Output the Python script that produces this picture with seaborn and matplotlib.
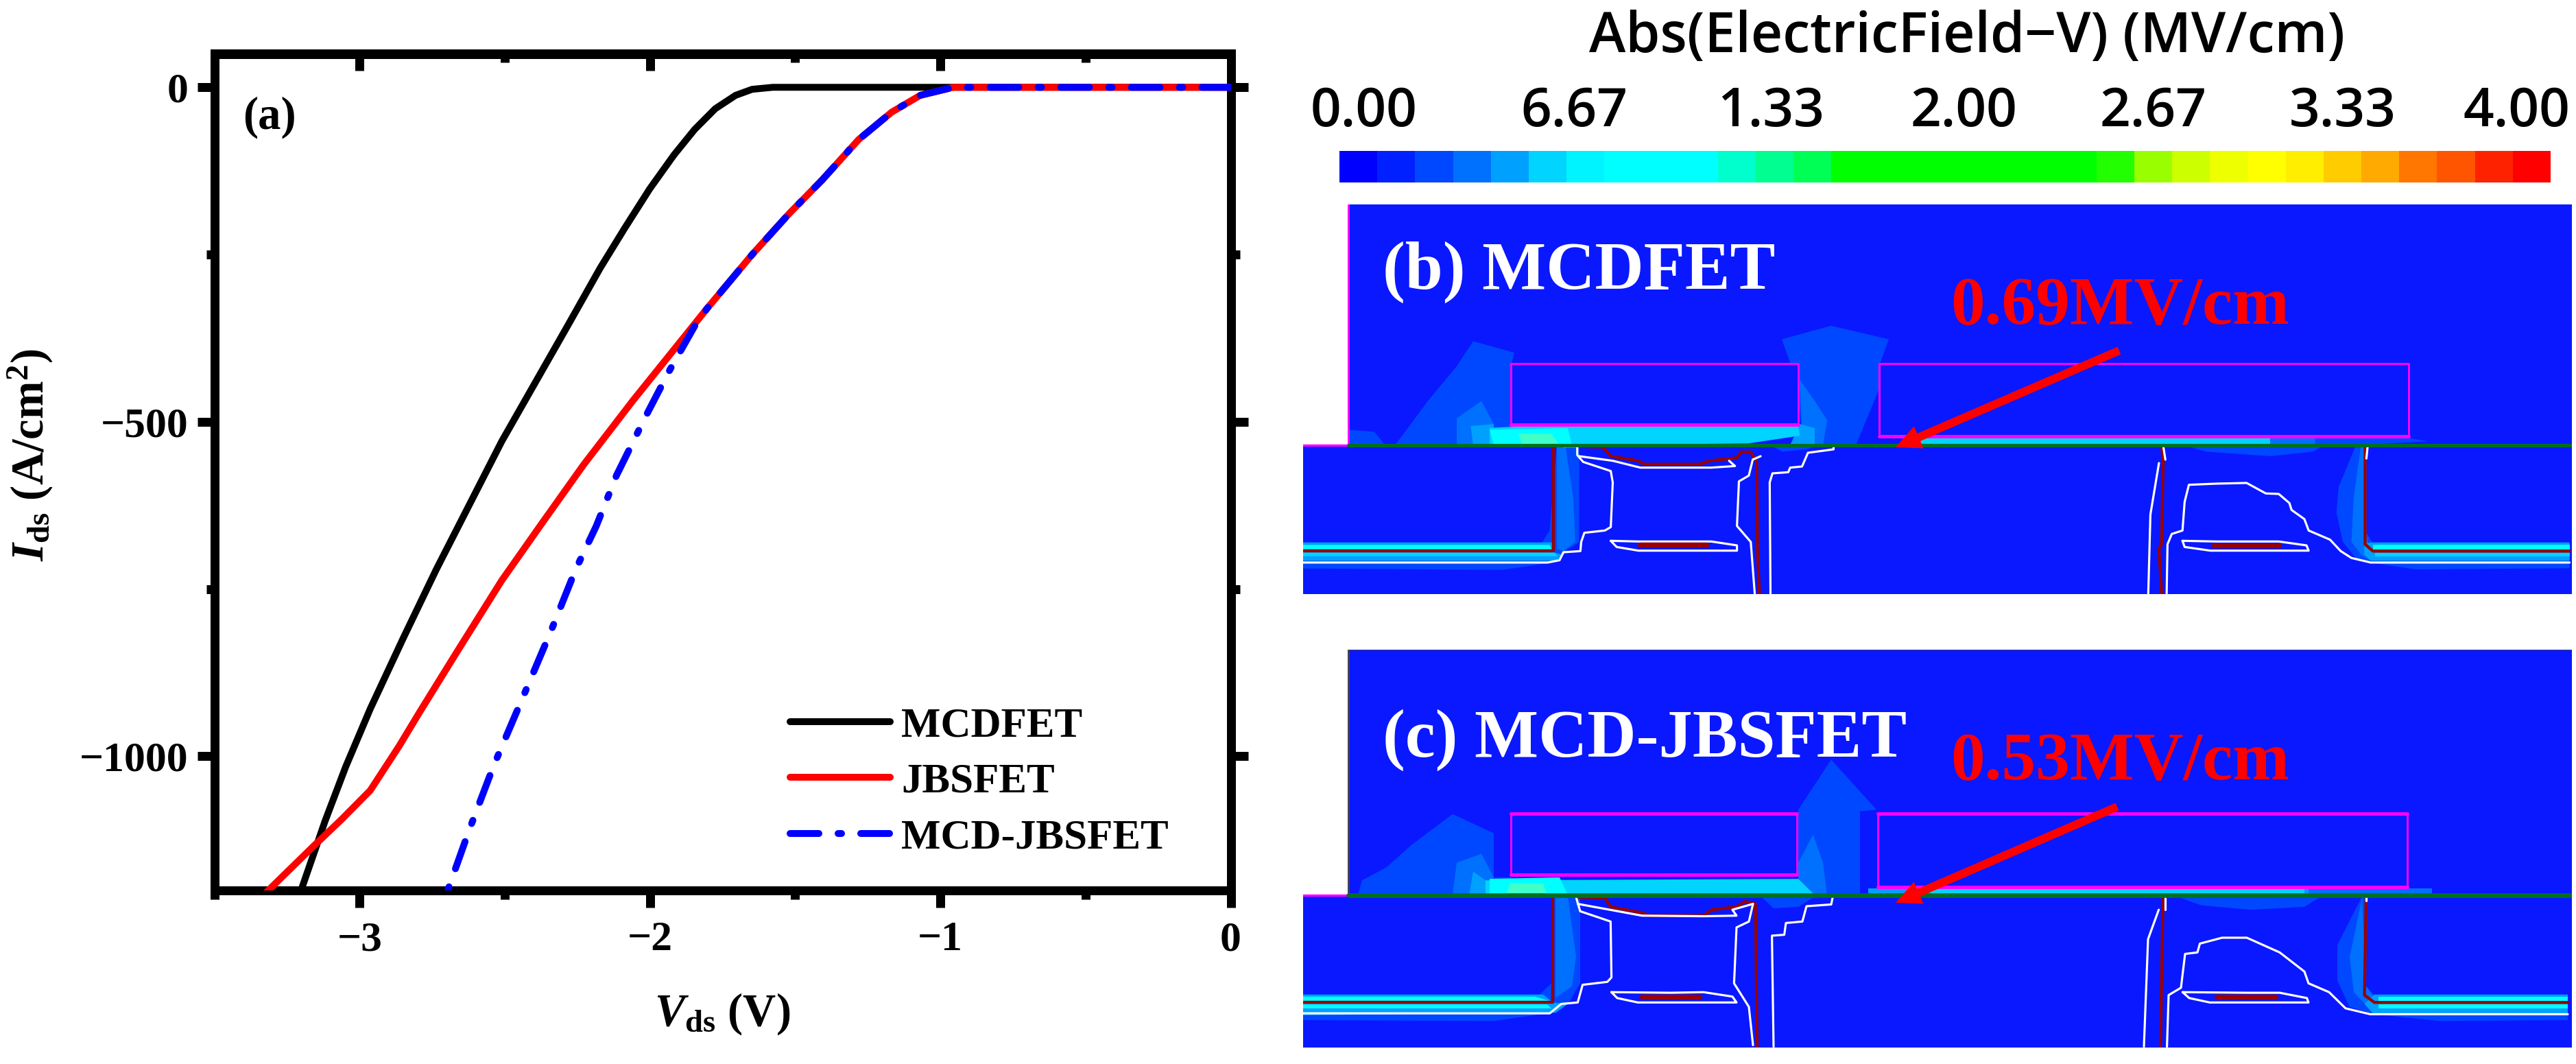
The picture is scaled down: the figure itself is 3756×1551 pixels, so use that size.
from __future__ import annotations

import matplotlib
matplotlib.use("Agg")
import matplotlib.pyplot as plt
import numpy as np
import pandas as pd
import seaborn as sns
from matplotlib.colors import ListedColormap
from matplotlib.ticker import MultipleLocator
from matplotlib.transforms import Affine2D

WIDTH, HEIGHT, DPI = 3756, 1551, 240

# ---- panel (a) curves
VDS_MCDFET = [0, -0.5, -1.0, -1.5, -1.577, -1.648, -1.705, -1.775, -1.846, -1.917, -2.001, -2.086, -2.171,
              -2.284, -2.397, -2.510, -2.623, -2.736, -2.849, -2.963, -3.047, -3.118, -3.205]
IDS_MCDFET = [0, 0, 0, 0, 0, -3, -12, -32, -63, -101, -152, -210, -270,
              -357, -443, -529, -625, -721, -823, -929, -1015, -1096, -1205]
VDS_JBSFET = [0, -0.5, -0.955, -1.069, -1.167, -1.281, -1.408, -1.521, -1.648, -1.804, -1.917, -2.058, -2.228,
              -2.369, -2.510, -2.666, -2.793, -2.864, -2.963, -3.061, -3.160, -3.325]
IDS_JBSFET = [0, 0, 0, -12, -37, -78, -139, -189, -250, -331, -392, -468, -564,
              -650, -737, -845, -934, -985, -1051, -1094, -1135, -1205]
VDS_MCD_JBSFET = [0, -0.5, -0.955, -1.069, -1.167, -1.281, -1.408, -1.521, -1.648, -1.804, -1.846, -1.931, -2.016,
                  -2.115, -2.185, -2.256, -2.341, -2.425, -2.539, -2.623, -2.70]
IDS_MCD_JBSFET = [0, 0, 0, -12, -37, -78, -139, -189, -250, -331, -357, -422, -493,
                  -580, -656, -721, -813, -899, -1015, -1111, -1205]

# ---- colour bar
COLORBAR_COLORS = ["#0000ff", "#0020ff", "#0048ff", "#0070ff", "#00a0ff", "#00d4ff", "#00f4ff", "#00ffff",
                   "#00ffff", "#00ffff", "#00ffcc", "#00ff90", "#00ff55", "#00ff00", "#00ff00", "#00ff00",
                   "#00ff00", "#00ff00", "#00ff00", "#00ff00", "#22ff00", "#99ff00", "#ccff00", "#eeff00",
                   "#ffff00", "#ffee00", "#ffcc00", "#ffaa00", "#ff7700", "#ff5500", "#ff2200", "#ff0000"]
COLORBAR_LABELS = ["0.00", "6.67", "1.33", "2.00", "2.67", "3.33", "4.00"]
COLORBAR_LABEL_CELLS = [0.65, 6.2, 11.4, 16.5, 21.5, 26.5, 31.1]

# ---- field map colours
BG = "#0a18ff"
L1 = "#0048ff"
L2 = "#0070ff"
L3 = "#00a0ff"
L4 = "#00d4ff"
L5 = "#00ffff"
L6 = "#40ffc8"
DARK_RED = "#990000"
MAGENTA = "#ff00ff"
GREEN = "#007020"

# each crop: x origin, x scale, y origin, y scale of the crop I read the outline from
B_TOP = (1878, 1.2, 0, 0.562)
B_LEFT = (1880, 0.575, 560, 1 / 3)
B_RIGHT = (2780, 0.6236, 560, 1 / 3)
C_ALL = (1878, 1.2, 880, 0.429)

B_FILLS = [
    (L1, B_TOP, [(130, 1155), (170, 1040), (205, 950), (225, 885), (275, 915), (272, 940), (272, 1155)]),
    (L1, B_TOP, [(600, 880), (660, 845), (730, 880), (718, 950), (718, 1010), (690, 1155), (625, 1155), (620, 1000)]),
    (L1, B_TOP, [(75, 1115), (105, 1120), (118, 1155), (75, 1155)]),
    (L2, B_TOP, [(205, 1155), (205, 1085), (235, 1040), (250, 1100), (245, 1155)]),
    (L2, B_TOP, [(622, 985), (640, 1040), (655, 1090), (650, 1155), (625, 1155)]),
    (L3, B_TOP, [(225, 1155), (222, 1105), (250, 1100), (250, 1155)]),
    (L3, B_TOP, [(622, 1100), (640, 1110), (640, 1155), (610, 1155)]),
    (L4, B_TOP, [(245, 1110), (300, 1104), (620, 1104), (622, 1130), (560, 1150), (340, 1155), (245, 1155)]),
    (L5, B_TOP, [(245, 1115), (340, 1110), (345, 1155), (250, 1155)]),
    (L6, B_TOP, [(280, 1125), (320, 1125), (330, 1155), (285, 1155)]),
    (L4, B_RIGHT, [(25, 235), (850, 235), (850, 262), (25, 262)]),
    (L2, B_RIGHT, [(850, 237), (955, 237), (955, 262), (850, 262)]),
    (L1, B_RIGHT, [(955, 235), (1170, 235), (1220, 250), (1100, 262), (955, 262)]),
    (L1, B_RIGHT, [(650, 268), (700, 295), (850, 315), (950, 295), (975, 268)]),
    (L1, B_LEFT, [(1220, 268), (1250, 295), (1310, 285), (1340, 268)]),
    (L1, B_LEFT, [(678, 268), (735, 268), (735, 690), (700, 730), (685, 770), (660, 782), (540, 812), (32, 806),
                  (32, 695), (640, 695), (660, 640)]),
    (L2, B_LEFT, [(678, 268), (700, 268), (720, 500), (725, 690), (695, 730), (678, 720)]),
    (L3, B_LEFT, [(32, 692), (665, 692), (670, 735), (690, 745), (680, 772), (32, 772)]),
    (L5, B_LEFT, [(32, 703), (660, 703), (665, 722), (32, 722)]),
    (L4, B_LEFT, [(32, 737), (672, 737), (680, 752), (32, 752)]),
    (L1, B_RIGHT, [(1050, 270), (1010, 450), (1005, 560), (1020, 690), (1050, 760), (1085, 780), (1190, 810),
                   (1550, 805), (1550, 695), (1090, 695), (1075, 650), (1075, 265)]),
    (L2, B_RIGHT, [(1062, 270), (1045, 500), (1040, 690), (1065, 750), (1085, 770), (1075, 650), (1075, 270)]),
    (L3, B_RIGHT, [(1085, 692), (1550, 692), (1550, 772), (1085, 772), (1070, 745), (1070, 700)]),
    (L5, B_RIGHT, [(1090, 703), (1550, 703), (1550, 722), (1090, 722)]),
    (L4, B_RIGHT, [(1095, 737), (1550, 737), (1550, 752), (1095, 752)]),
]
B_WHITE = [
    (B_LEFT, [(32, 780), (655, 780), (685, 770), (695, 735), (738, 730), (740, 690), (748, 650), (800, 640),
              (815, 625), (820, 430), (815, 380), (745, 340), (730, 310), (730, 272), (695, 272)]),
    (B_LEFT, [(735, 315), (820, 335), (890, 365), (1070, 365), (1130, 358), (1115, 335)]),
    (B_LEFT, [(1195, 315), (1175, 330), (1165, 400), (1140, 425), (1135, 620), (1170, 690), (1180, 915)]),
    (B_LEFT, [(815, 685), (885, 688), (1070, 688), (1135, 705), (1135, 728), (885, 728), (830, 712), (815, 685)]),
    (B_LEFT, [(1380, 270), (1380, 285), (1315, 300), (1300, 360), (1270, 365), (1265, 385), (1225, 390),
              (1218, 430), (1220, 915)]),
    (B_RIGHT, [(590, 345), (570, 570), (565, 915)]),
    (B_RIGHT, [(600, 270), (605, 330)]),
    (B_RIGHT, [(608, 915), (610, 700), (620, 655), (645, 640), (650, 515), (660, 440), (725, 435), (795, 432),
               (840, 478), (870, 480), (895, 520), (900, 550), (930, 590), (940, 640), (990, 680), (1015, 730),
               (1040, 760), (1085, 780), (1550, 780)]),
    (B_RIGHT, [(645, 685), (725, 688), (870, 688), (935, 705), (940, 728), (710, 728), (650, 712), (645, 685)]),
    (B_RIGHT, [(1078, 270), (1075, 325)]),
]
B_RED = [
    (B_LEFT, [(32, 730), (670, 730), (670, 268)]),
    (B_LEFT, [(730, 272), (795, 275), (815, 315), (885, 335), (900, 350), (1040, 350), (1065, 335), (1135, 322),
              (1145, 297), (1170, 297), (1185, 340), (1187, 730), (1192, 915)]),
    (B_RIGHT, [(596, 268), (600, 330), (596, 700), (590, 720), (596, 915)]),
    (B_RIGHT, [(1072, 268), (1072, 700), (1090, 730), (1550, 730)]),
]
B_BLOBS = [(B_LEFT, [(888, 703), (1058, 703)]), (B_RIGHT, [(718, 705), (870, 705)])]
B_GATES = [(B_TOP, [(271, 943), (620, 943), (620, 1102), (271, 1102), (271, 943)]),
           (B_TOP, [(718, 943), (1362, 943), (1362, 1132), (718, 1132), (718, 943)])]

C_FILLS = [
    (L1, C_ALL, [(85, 990), (90, 940), (120, 895), (150, 820), (200, 715), (250, 780), (250, 930), (272, 930),
                 (272, 990)]),
    (L1, C_ALL, [(620, 700), (660, 530), (715, 700), (695, 705), (695, 990), (620, 990)]),
    (L2, C_ALL, [(200, 990), (205, 880), (235, 850), (250, 930), (235, 990)]),
    (L2, C_ALL, [(620, 880), (638, 785), (650, 880), (655, 990), (620, 990)]),
    (L3, C_ALL, [(220, 990), (225, 910), (240, 940), (240, 990)]),
    (L4, C_ALL, [(240, 940), (620, 935), (640, 990), (240, 990)]),
    (L5, C_ALL, [(245, 935), (330, 930), (340, 990), (245, 990)]),
    (L6, C_ALL, [(270, 950), (310, 950), (315, 990), (265, 990)]),
    (L3, C_ALL, [(705, 968), (1240, 968), (1240, 988), (705, 988)]),
    (L4, C_ALL, [(780, 968), (1235, 968), (1235, 988), (780, 988)]),
    (L2, C_ALL, [(1240, 968), (1390, 968), (1390, 988), (1240, 988)]),
    (L1, C_ALL, [(1080, 995), (1110, 1025), (1170, 1040), (1235, 1030), (1255, 995)]),
    (L1, C_ALL, [(575, 995), (590, 1035), (620, 1030), (640, 995)]),
    (L1, C_ALL, [(322, 995), (355, 995), (355, 1290), (340, 1360), (320, 1390), (250, 1418), (18, 1415), (18, 1330),
                 (305, 1330), (320, 1290)]),
    (L2, C_ALL, [(325, 995), (340, 995), (350, 1200), (345, 1300), (325, 1340)]),
    (L3, C_ALL, [(18, 1328), (310, 1328), (322, 1355), (340, 1360), (325, 1390), (18, 1398)]),
    (L5, C_ALL, [(18, 1335), (300, 1335), (318, 1350), (18, 1350)]),
    (L5, C_ALL, [(18, 1362), (315, 1362), (320, 1375), (18, 1375)]),
    (L1, C_ALL, [(1305, 995), (1275, 1160), (1275, 1280), (1290, 1370), (1320, 1395), (1400, 1418), (1555, 1415),
                 (1555, 1330), (1320, 1330), (1310, 1300), (1312, 995)]),
    (L2, C_ALL, [(1305, 1000), (1290, 1200), (1295, 1320), (1315, 1380), (1320, 1340), (1310, 1300)]),
    (L3, C_ALL, [(1320, 1328), (1555, 1328), (1555, 1398), (1320, 1398), (1308, 1360)]),
    (L5, C_ALL, [(1325, 1335), (1555, 1335), (1555, 1350), (1325, 1350)]),
    (L5, C_ALL, [(1325, 1362), (1555, 1362), (1555, 1375), (1325, 1375)]),
]
C_WHITE = [
    (C_ALL, [(18, 1392), (318, 1392), (332, 1360), (352, 1355), (358, 1295), (388, 1285), (393, 1270), (392, 1080),
             (355, 1045), (350, 997)]),
    (C_ALL, [(352, 1020), (430, 1060), (505, 1062), (545, 1060), (540, 1040), (565, 1020)]),
    (C_ALL, [(565, 1020), (560, 1080), (545, 1100), (542, 1290), (560, 1370), (565, 1500)]),
    (C_ALL, [(662, 995), (660, 1022), (630, 1028), (625, 1080), (605, 1085), (603, 1125), (588, 1128), (590, 1505)]),
    (C_ALL, [(393, 1320), (465, 1322), (505, 1320), (540, 1335), (545, 1355), (425, 1355), (400, 1340), (393, 1320)]),
    (C_ALL, [(1058, 1040), (1045, 1140), (1040, 1505)]),
    (C_ALL, [(1066, 1000), (1066, 1040)]),
    (C_ALL, [(1068, 1505), (1070, 1330), (1085, 1305), (1090, 1190), (1105, 1185), (1108, 1155), (1135, 1135),
             (1165, 1135), (1205, 1185), (1235, 1250), (1240, 1290), (1265, 1320), (1285, 1375), (1315, 1395),
             (1555, 1395)]),
    (C_ALL, [(1087, 1320), (1165, 1322), (1205, 1322), (1238, 1340), (1240, 1355), (1120, 1355), (1095, 1340),
             (1087, 1320)]),
    (C_ALL, [(1310, 995), (1310, 1010)]),
]
C_RED = [
    (C_ALL, [(18, 1355), (322, 1355), (322, 992)]),
    (C_ALL, [(350, 997), (385, 1000), (392, 1030), (430, 1050), (440, 1060), (505, 1060), (515, 1040), (545, 1030),
             (555, 1012), (568, 1020), (570, 1505)]),
    (C_ALL, [(1063, 992), (1063, 1040), (1060, 1505)]),
    (C_ALL, [(1310, 992), (1308, 1330), (1320, 1355), (1555, 1355)]),
]
C_BLOBS = [(C_ALL, [(430, 1336), (500, 1336)]), (C_ALL, [(1128, 1336), (1200, 1336)])]
C_GATES = [(C_ALL, [(271, 713), (618, 713), (618, 920), (271, 920), (271, 713)]),
           (C_ALL, [(717, 713), (1360, 713), (1360, 962), (717, 962), (717, 713)])]


def to_pixels(crop, points):
    x0, sx, y0, sy = crop
    arr = np.array(points, dtype=float)
    return x0 + arr[:, 0] * sx, y0 + arr[:, 1] * sy


def add_axes_px(fig, x0, y0, x1, y1):
    return fig.add_axes([x0 / WIDTH, 1 - y1 / HEIGHT, (x1 - x0) / WIDTH, (y1 - y0) / HEIGHT])


def fig_pixel_transform(fig):
    return Affine2D().scale(1 / WIDTH, -1 / HEIGHT).translate(0, 1) + fig.transFigure


def draw_iv_panel(fig):
    ax = add_axes_px(fig, 312.5, 78.5, 1794.5, 1297.5)
    curves = [
        (VDS_MCDFET, IDS_MCDFET, "MCDFET", "black", "-"),
        (VDS_JBSFET, IDS_JBSFET, "JBSFET", "#ff0000", "-"),
        (VDS_MCD_JBSFET, IDS_MCD_JBSFET, "MCD-JBSFET", "#0000ff", (0, (4.2, 2.8, 0.5, 2.8))),
    ]
    for vds, ids, name, color, style in curves:
        frame = pd.DataFrame({"vds": vds, "ids": ids})
        sns.lineplot(data=frame, x="vds", y="ids", ax=ax, sort=False, estimator=None, color=color,
                     linestyle=style, linewidth=3.0, label=name, zorder=3, dash_capstyle="round")

    ax.set_xlim(-3.5, 0)
    ax.set_ylim(-1200, 50)
    ax.xaxis.set_major_locator(MultipleLocator(1))
    ax.xaxis.set_minor_locator(MultipleLocator(0.5))
    ax.yaxis.set_major_locator(MultipleLocator(500))
    ax.yaxis.set_minor_locator(MultipleLocator(250))
    ax.tick_params(axis="both", which="major", direction="out", length=7.4, width=3.9, labelsize=18.5)
    ax.tick_params(axis="both", which="minor", direction="out", length=3.75, width=3.9)
    ax.tick_params(axis="x", which="major", pad=6)
    ax.tick_params(axis="y", which="both", left=True, right=True)
    ax.tick_params(axis="y", which="major", pad=4)
    ax.tick_params(axis="x", which="both", bottom=True, top=False)
    for spine in ax.spines.values():
        spine.set_visible(True)
        spine.set_linewidth(3.9)

    top = ax.secondary_xaxis("top")
    top.xaxis.set_major_locator(MultipleLocator(1))
    top.xaxis.set_minor_locator(MultipleLocator(0.5))
    top.tick_params(axis="x", which="major", direction="in", length=7.4, width=3.9, labeltop=False)
    top.tick_params(axis="x", which="minor", direction="in", length=3.75, width=3.9)
    top.spines["top"].set_linewidth(3.9)

    ax.set_xlabel(r"$\mathit{V}_{\mathrm{ds}}$ (V)", fontsize=20, fontweight="bold", labelpad=14)
    ax.set_ylabel(r"$\mathit{I}_{\mathrm{ds}}$ (A/cm$^{\mathbf{2}}$)", fontsize=20, fontweight="bold", labelpad=6)
    ax.yaxis.set_label_coords(-0.157, 0.52)
    ax.text(354, 188, "(a)", transform=fig_pixel_transform(fig), fontsize=20, fontweight="bold")

    ax.legend(loc="upper left", bbox_to_anchor=(1152 / WIDTH, 1 - 1030 / HEIGHT), bbox_transform=fig.transFigure,
              frameon=False, prop={"weight": "bold", "size": 18.3}, borderpad=0, borderaxespad=0,
              handlelength=2.4, handletextpad=0.26, labelspacing=0.42)


def draw_colorbar(fig):
    ax = add_axes_px(fig, 1953, 220, 3719, 266)
    cells = np.arange(len(COLORBAR_COLORS)).reshape(1, -1)
    sns.heatmap(cells, ax=ax, cmap=ListedColormap(COLORBAR_COLORS), cbar=False, xticklabels=False, yticklabels=False)
    ax.set_xticks(COLORBAR_LABEL_CELLS, COLORBAR_LABELS, rotation=0, family="Open Sans", fontsize=23.5,
                  fontweight="semibold")
    ax.tick_params(axis="x", which="both", length=0, top=True, bottom=False, labeltop=True, labelbottom=False, pad=5)
    fig.text(2868 / WIDTH, 1 - 76 / HEIGHT, "Abs(ElectricField\u2212V) (MV/cm)", ha="center", va="baseline",
             family="Open Sans", fontsize=24.2, fontweight="semibold")


def draw_field_panel(fig, box, interface_y, fills, whites, reds, blobs, gates, label, label_y, value, value_y,
                     arrow_from, arrow_to, left_color, green_lw, thick_gate_top):
    x0, y0, x1, y1 = box
    ax = add_axes_px(fig, x0, y0, x1, y1)
    ax.set_xlim(x0, x1)
    ax.set_ylim(y1, y0)
    ax.axis("off")
    ax.fill([1966, x1, x1, 1966], [y0, y0, interface_y, interface_y], color=BG, lw=0, zorder=1)
    ax.fill([x0, x1, x1, x0], [interface_y, interface_y, y1, y1], color=BG, lw=0, zorder=1)
    for color, crop, points in fills:
        xs, ys = to_pixels(crop, points)
        ax.fill(xs, ys, color=color, lw=0, zorder=2)
    for crop, points in gates:
        xs, ys = to_pixels(crop, points)
        ax.fill(xs, ys, color=BG, lw=0, zorder=3)
        ax.plot(xs, ys, color=MAGENTA, lw=0.9, zorder=4)
        ax.plot(xs[2:4], ys[2:4], color=MAGENTA, lw=1.5, zorder=4)
        if thick_gate_top:
            ax.plot(xs[0:2], ys[0:2], color=MAGENTA, lw=1.5, zorder=4)
    for crop, points in reds:
        xs, ys = to_pixels(crop, points)
        ax.plot(xs, ys, color=DARK_RED, lw=1.3, zorder=5)
    for crop, points in whites:
        xs, ys = to_pixels(crop, points)
        ax.plot(xs, ys, color="white", lw=0.95, zorder=6)
    for crop, points in blobs:
        xs, ys = to_pixels(crop, points)
        ax.plot(xs, ys, color=DARK_RED, lw=2.2, solid_capstyle="round", zorder=7)
    ax.plot([1966, 1966], [y0, interface_y], color=left_color, lw=0.9, zorder=8)
    ax.plot([1966, x1], [y0, y0], color=left_color, lw=0.6 if left_color != MAGENTA else 0, zorder=8)
    ax.plot([x0, 1966], [interface_y, interface_y], color=MAGENTA, lw=1.0, zorder=8)
    ax.plot([1966, x1], [interface_y, interface_y], color=GREEN, lw=green_lw, zorder=8)
    ax.text(2016, label_y, label, color="white", fontsize=29.6, fontweight="bold", va="baseline", zorder=9)
    ax.text(2844, value_y, value, color="#ff0000", fontsize=29.8, fontweight="bold", va="baseline", zorder=9)
    ax.annotate("", xy=arrow_to, xytext=arrow_from, zorder=9,
                arrowprops=dict(facecolor="#ff0000", edgecolor="none", width=3.6, headwidth=10.5, headlength=11,
                                shrink=0))


sns.set_style("ticks")
plt.rcParams["font.family"] = ["Liberation Serif", "DejaVu Serif"]
plt.rcParams["mathtext.fontset"] = "custom"
plt.rcParams["mathtext.rm"] = "Liberation Serif:bold"
plt.rcParams["mathtext.it"] = "Liberation Serif:italic:bold"
plt.rcParams["mathtext.bf"] = "Liberation Serif:bold"
plt.rcParams["axes.unicode_minus"] = True
plt.rcParams["axes.edgecolor"] = "black"
plt.rcParams["axes.labelcolor"] = "black"
plt.rcParams["text.color"] = "black"
plt.rcParams["xtick.color"] = "black"
plt.rcParams["ytick.color"] = "black"
plt.rcParams["font.weight"] = "bold"
plt.rcParams["axes.labelweight"] = "bold"

fig = plt.figure(figsize=(WIDTH / DPI, HEIGHT / DPI), dpi=DPI, facecolor="white")
draw_iv_panel(fig)
draw_colorbar(fig)
draw_field_panel(fig, (1900, 298, 3750, 866), 649, B_FILLS, B_WHITE, B_RED, B_BLOBS, B_GATES,
                 "(b) MCDFET", 421, "0.69MV/cm", 472, (3090, 511), (2764, 652), MAGENTA, 1.5, False)
draw_field_panel(fig, (1900, 947, 3750, 1527), 1305, C_FILLS, C_WHITE, C_RED, C_BLOBS, C_GATES,
                 "(c) MCD-JBSFET", 1103, "0.53MV/cm", 1136, (3087, 1176), (2764, 1316), "#404060", 2.0, True)

fig.savefig("out.png", dpi=DPI)
plt.close(fig)
